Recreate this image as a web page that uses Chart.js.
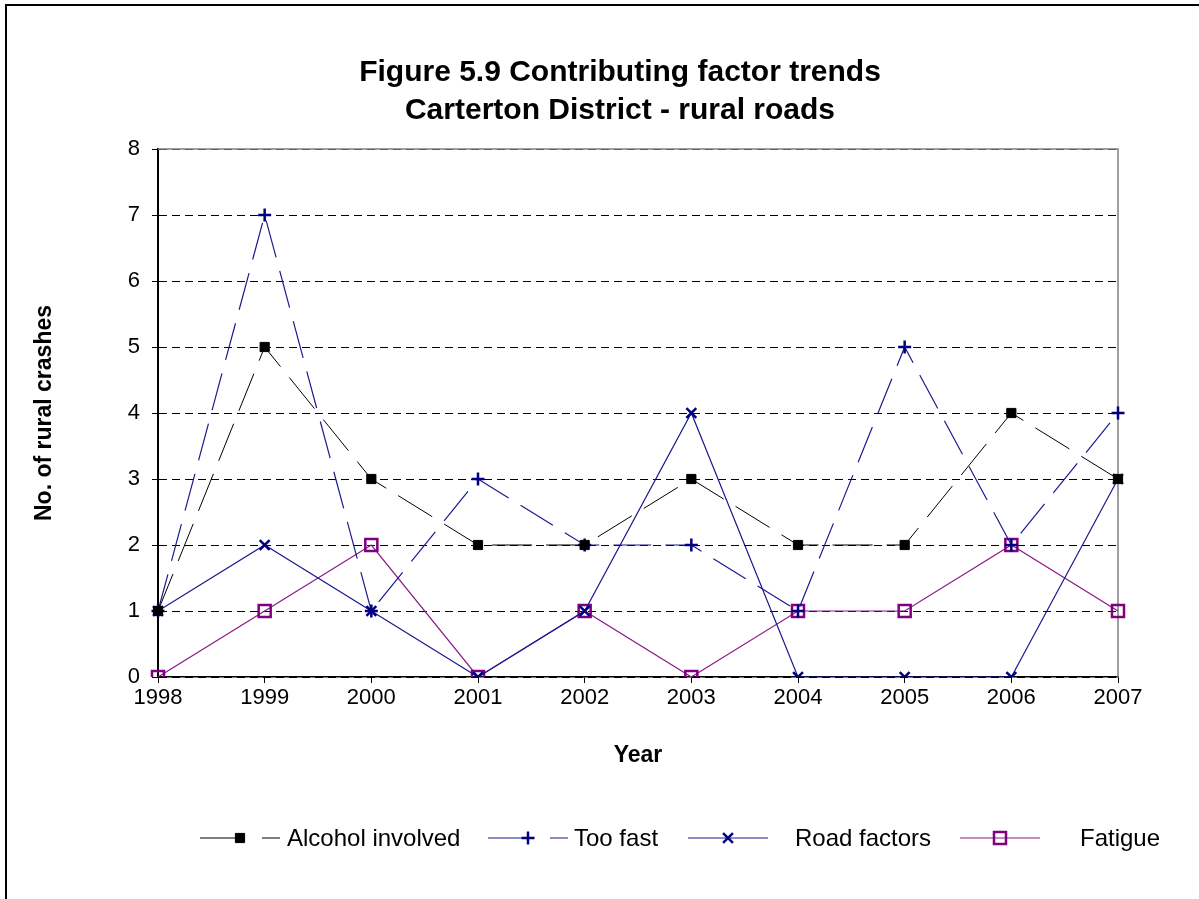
<!DOCTYPE html>
<html>
<head>
<meta charset="utf-8">
<script src="https://cdn.jsdelivr.net/npm/chart.js@4.4.1/dist/chart.umd.min.js"></script>
<style>
  html, body { margin: 0; padding: 0; background: #fff; overflow: hidden; }
  #wrap { width: 1199px; height: 899px; position: relative; }
</style>
</head>
<body>
<div id="wrap"><canvas id="factorChart"></canvas></div>
<script>
    const years = ['1998', '1999', '2000', '2001', '2002', '2003', '2004', '2005', '2006', '2007'];
    const alcoholInvolved = [1, 5, 3, 2, 2, 3, 2, 2, 4, 3];
    const tooFast = [1, 7, 1, 3, 2, 2, 1, 5, 2, 4];
    const roadFactors = [1, 2, 1, 0, 1, 4, 0, 0, 0, 3];
    const fatigue = [0, 1, 2, 0, 1, 0, 1, 1, 2, 1];
    const yTicks = [0, 1, 2, 3, 4, 5, 6, 7, 8];
    const titleLines = ['Figure 5.9 Contributing factor trends', 'Carterton District - rural roads'];

    const FONT = "'Liberation Sans', Arial, sans-serif";

    // outer frame, title, and plot area border (top/right grey)
    const framePlugin = {
        id: 'frame',
        beforeDraw(chart) {
            const c = chart.ctx;
            c.save();
            c.fillStyle = '#fff';
            c.fillRect(0, 0, chart.width, chart.height);
            c.strokeStyle = '#000';
            c.lineWidth = 2;
            c.beginPath();
            c.moveTo(6, chart.height + 2);
            c.lineTo(6, 5);
            c.lineTo(chart.width + 2, 5);
            c.stroke();
            c.fillStyle = '#000';
            c.font = 'bold 30px ' + FONT;
            c.textAlign = 'center';
            c.textBaseline = 'middle';
            titleLines.forEach((t, i) => c.fillText(t, 620, 73 + i * 38));
            c.restore();
        },
        beforeDatasetsDraw(chart) {
            const a = chart.chartArea;
            const c = chart.ctx;
            c.save();
            c.strokeStyle = '#808080';
            c.lineWidth = 1.5;
            c.beginPath();
            c.moveTo(a.left, a.top);
            c.lineTo(a.right, a.top);
            c.lineTo(a.right, a.bottom);
            c.stroke();
            c.restore();
        }
    };

    function drawMarker(c, style, x, y, r, fill, stroke, bw) {
        c.save();
        c.lineWidth = bw;
        c.strokeStyle = stroke;
        c.fillStyle = fill;
        c.setLineDash([]);
        c.beginPath();
        if (style === 'rect') {
            const s = Math.SQRT1_2 * r;
            c.rect(x - s, y - s, 2 * s, 2 * s);
            if (fill !== 'transparent') c.fill();
            c.stroke();
        } else if (style === 'cross') {
            c.moveTo(x - r, y); c.lineTo(x + r, y);
            c.moveTo(x, y - r); c.lineTo(x, y + r);
            c.stroke();
        } else if (style === 'crossRot') {
            const s = Math.SQRT1_2 * r;
            c.moveTo(x - s, y - s); c.lineTo(x + s, y + s);
            c.moveTo(x - s, y + s); c.lineTo(x + s, y - s);
            c.stroke();
        }
        c.restore();
    }

    // Excel style legend: line sample with marker, then label
    const legendPlugin = {
        id: 'excelLegend',
        afterDraw(chart) {
            const c = chart.ctx;
            const y = 838;
            const starts = [200, 488, 688, 960];
            const textOff = [87, 86, 107, 120];
            chart.data.datasets.forEach((ds, i) => {
                const x0 = starts[i];
                c.save();
                c.strokeStyle = ds.borderColor;
                c.lineWidth = ds.borderWidth;
                c.setLineDash(ds.legendDash || []);
                c.beginPath();
                c.moveTo(x0, y);
                c.lineTo(x0 + 80, y);
                c.stroke();
                c.restore();
                drawMarker(c, ds.pointStyle, x0 + 40, y, ds.pointRadius,
                    ds.pointBackgroundColor, ds.pointBorderColor, ds.pointBorderWidth);
                c.save();
                c.fillStyle = '#000';
                c.font = '24px ' + FONT;
                c.textBaseline = 'middle';
                c.fillText(ds.label, x0 + textOff[i], y + 1);
                c.restore();
            });
        }
    };

    const ctx = document.getElementById('factorChart').getContext('2d');
    new Chart(ctx, {
        type: 'line',
        data: {
            labels: years,
            datasets: [{
                label: 'Alcohol involved',
                data: alcoholInvolved,
                borderColor: '#000000',
                borderWidth: 1,
                borderDash: [40, 14],
                legendDash: [45, 17],
                pointStyle: 'rect',
                pointRadius: 6.5,
                pointBackgroundColor: '#000000',
                pointBorderColor: '#000000',
                pointBorderWidth: 1,
                tension: 0
            }, {
                label: 'Too fast',
                data: tooFast,
                borderColor: '#1a1a90',
                borderWidth: 1.2,
                borderDash: [38, 14],
                legendDash: [45, 17],
                pointStyle: 'cross',
                pointRadius: 6.5,
                pointBackgroundColor: '#000080',
                pointBorderColor: '#000080',
                pointBorderWidth: 2.5,
                tension: 0
            }, {
                label: 'Road factors',
                data: roadFactors,
                borderColor: '#1a1a90',
                borderWidth: 1.2,
                pointStyle: 'crossRot',
                pointRadius: 7,
                pointBackgroundColor: '#000080',
                pointBorderColor: '#000080',
                pointBorderWidth: 2.5,
                tension: 0
            }, {
                label: 'Fatigue',
                data: fatigue,
                borderColor: '#8a1a8a',
                borderWidth: 1.2,
                pointStyle: 'rect',
                pointRadius: 8.5,
                pointBackgroundColor: 'transparent',
                pointBorderColor: '#800080',
                pointBorderWidth: 2.5,
                tension: 0
            }]
        },
        options: {
            responsive: true,
            maintainAspectRatio: false,
            animation: false,
            layout: { padding: { left: 0, right: 81, top: 149, bottom: 0 } },
            scales: {
                x: {
                    offset: false,
                    afterFit: function (scale) { scale.height = 222; },
                    grid: {
                        drawOnChartArea: false,
                        drawTicks: true,
                        tickLength: 6,
                        tickColor: '#000',
                        tickWidth: 1
                    },
                    border: { color: '#000', width: 1.5 },
                    ticks: {
                        autoSkip: false,
                        maxRotation: 0,
                        padding: 2,
                        color: '#000',
                        font: { family: FONT, size: 22 }
                    },
                    title: {
                        display: true,
                        text: 'Year',
                        color: '#000',
                        font: { family: FONT, size: 23, weight: 'bold' },
                        padding: { top: 0, bottom: 130 }
                    }
                },
                y: {
                    min: 0,
                    max: 8,
                    afterFit: function (scale) { scale.width = 158; },
                    afterBuildTicks: function (scale) {
                        scale.ticks = yTicks.map(v => ({ value: v }));
                    },
                    grid: {
                        color: '#000',
                        lineWidth: 1,
                        drawTicks: true,
                        tickLength: 6,
                        tickColor: '#000',
                        tickWidth: 1,
                        tickBorderDash: []
                    },
                    border: { color: '#000', width: 2, dash: [8, 5] },
                    ticks: {
                        padding: 12,
                        color: '#000',
                        font: { family: FONT, size: 22 }
                    },
                    title: {
                        display: true,
                        text: 'No. of rural crashes',
                        color: '#000',
                        font: { family: FONT, size: 23, weight: 'bold' },
                        padding: { top: 31, bottom: 0 }
                    }
                }
            },
            plugins: {
                legend: { display: false },
                tooltip: { enabled: false }
            }
        },
        plugins: [framePlugin, legendPlugin]
    });
</script>
</body>
</html>
